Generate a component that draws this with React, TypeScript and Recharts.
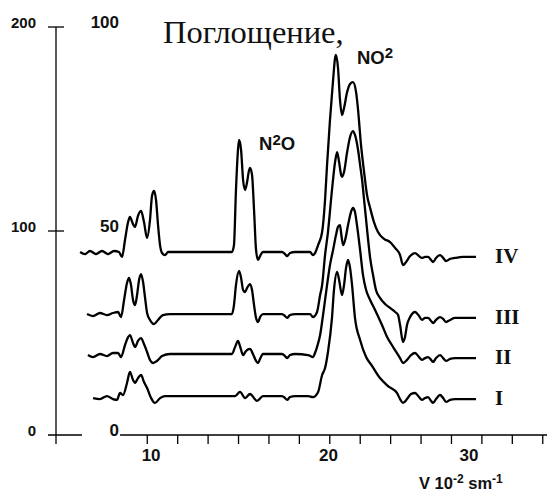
import React from 'react';
import { LineChart, Line, XAxis, YAxis, ReferenceLine, LabelList, Customized } from 'recharts';

// wavenumber (10^2 cm^-1) , absorption (left scale units)
const curveIV: [number, number][] = [
  [6.32, 89.7], [6.59, 88.7], [6.86, 90.2], [7.19, 88.7], [7.52, 90.2], [7.85, 88.7], [8.18, 90.2], [8.45, 89.7],
  [8.62, 87.3], [8.78, 95.6], [8.95, 104.4], [9.05, 106.9], [9.22, 103.4], [9.33, 102.0], [9.49, 107.4], [9.66, 109.8],
  [9.82, 104.4], [9.99, 96.6], [10.15, 105.4], [10.26, 117.2], [10.37, 119.6], [10.48, 115.2], [10.59, 102.9], [10.7, 93.1],
  [10.81, 89.2], [10.97, 88.2], [11.14, 89.7], [11.52, 89.7], [14.64, 89.7], [14.75, 93.1], [14.86, 120.1], [14.97, 139.7],
  [15.03, 144.6], [15.14, 139.7], [15.25, 125.0], [15.36, 120.1], [15.47, 124.0], [15.58, 129.9], [15.63, 130.9], [15.74, 127.5],
  [15.85, 110.3], [15.96, 90.7], [16.07, 85.8], [16.18, 87.7], [16.34, 89.7], [17.38, 89.7], [17.55, 88.7], [17.66, 87.7],
  [17.82, 89.2], [18.1, 89.7], [18.92, 89.7], [19.08, 88.2], [19.19, 89.2], [19.36, 93.1], [19.58, 99.5], [19.74, 115.2],
  [19.85, 132.4], [20.01, 154.4], [20.18, 174.0], [20.29, 184.8], [20.34, 186.3], [20.45, 179.9], [20.56, 164.2], [20.67, 156.9],
  [20.78, 160.3], [20.95, 168.1], [21.11, 172.1], [21.27, 173.0], [21.44, 168.1], [21.55, 159.3], [21.71, 142.2], [21.88, 128.9],
  [22.04, 117.6], [22.21, 111.3], [22.42, 104.4], [22.64, 99.5], [22.97, 96.1], [23.3, 94.6], [23.58, 91.7], [23.85, 88.2],
  [24.01, 83.3], [24.18, 84.8], [24.4, 87.7], [24.67, 89.2], [24.89, 87.7], [25.05, 86.8], [25.22, 87.3], [25.38, 87.3],
  [25.55, 85.8], [25.66, 84.8], [25.82, 86.8], [26.04, 88.2], [26.21, 86.8], [26.37, 85.3], [26.59, 86.3], [26.86, 86.8],
  [27.3, 87.3], [28.01, 87.3],
];

const curveIII: [number, number][] = [
  [6.7, 59.3], [7.03, 58.3], [7.41, 59.8], [7.79, 58.8], [8.12, 59.8], [8.4, 60.3], [8.56, 57.8], [8.73, 66.2],
  [8.89, 74.5], [9.0, 77.0], [9.11, 73.5], [9.22, 66.2], [9.33, 63.7], [9.44, 68.6], [9.55, 76.0], [9.66, 78.9],
  [9.77, 75.0], [9.88, 67.2], [9.99, 59.8], [10.15, 56.4], [10.37, 54.4], [10.59, 56.4], [10.86, 58.8], [11.25, 59.3],
  [14.64, 59.3], [14.75, 63.7], [14.86, 73.5], [15.03, 80.4], [15.14, 77.0], [15.25, 71.1], [15.36, 70.1], [15.47, 72.1],
  [15.63, 74.0], [15.74, 71.1], [15.85, 63.7], [15.96, 57.4], [16.07, 55.4], [16.18, 57.8], [16.34, 59.3], [17.38, 59.3],
  [17.55, 58.3], [17.66, 57.4], [17.82, 58.8], [18.1, 59.3], [18.92, 59.3], [19.08, 57.8], [19.3, 60.3], [19.47, 68.6],
  [19.58, 73.5], [19.74, 88.2], [19.9, 99.5], [20.12, 120.1], [20.29, 133.8], [20.4, 138.7], [20.51, 133.8], [20.62, 127.5],
  [20.67, 126.5], [20.78, 128.9], [20.95, 138.7], [21.11, 146.1], [21.27, 149.0], [21.38, 147.1], [21.55, 139.7], [21.66, 132.4],
  [21.77, 125.0], [21.88, 115.2], [21.99, 105.4], [22.1, 95.6], [22.21, 86.8], [22.37, 78.4], [22.53, 71.1], [22.75, 67.2],
  [23.03, 64.2], [23.3, 62.3], [23.58, 60.3], [23.74, 58.8], [23.85, 53.9], [24.01, 45.6], [24.12, 48.0], [24.23, 53.9],
  [24.4, 57.8], [24.67, 60.3], [24.89, 58.3], [25.05, 56.4], [25.22, 57.4], [25.38, 57.4], [25.55, 55.9], [25.66, 54.9],
  [25.82, 56.4], [26.04, 57.8], [26.21, 56.9], [26.37, 55.4], [26.59, 56.4], [26.86, 57.4], [28.01, 57.4],
];

const curveII: [number, number][] = [
  [6.75, 39.2], [7.03, 38.2], [7.41, 39.7], [7.79, 38.7], [8.12, 40.2], [8.4, 40.2], [8.56, 38.2], [8.78, 44.1],
  [8.95, 48.0], [9.05, 49.0], [9.22, 45.1], [9.33, 43.1], [9.49, 46.1], [9.66, 47.5], [9.82, 44.6], [9.99, 40.7],
  [10.15, 36.8], [10.32, 35.3], [10.53, 36.3], [10.81, 38.7], [11.25, 39.7], [14.64, 39.7], [14.81, 43.1], [14.97, 46.1],
  [15.08, 43.6], [15.25, 39.2], [15.41, 41.2], [15.63, 42.2], [15.79, 39.7], [15.96, 36.3], [16.07, 35.3], [16.18, 37.3],
  [16.34, 39.7], [17.38, 39.7], [17.55, 38.7], [17.66, 37.7], [17.82, 39.2], [18.1, 39.7], [18.81, 39.2], [19.08, 38.2],
  [19.19, 40.2], [19.3, 43.1], [19.47, 49.0], [19.63, 58.8], [19.85, 73.5], [20.01, 83.3], [20.18, 90.7], [20.34, 98.0],
  [20.45, 102.0], [20.56, 102.9], [20.62, 99.0], [20.73, 93.1], [20.84, 95.6], [21.0, 102.9], [21.16, 109.3], [21.27, 111.3],
  [21.38, 109.3], [21.49, 102.9], [21.66, 90.7], [21.82, 78.4], [21.99, 71.1], [22.21, 66.2], [22.48, 61.3], [22.86, 53.9],
  [23.14, 48.0], [23.47, 43.1], [23.85, 37.7], [24.01, 35.3], [24.23, 36.8], [24.45, 39.2], [24.67, 40.2], [24.89, 38.2],
  [25.05, 36.8], [25.22, 37.7], [25.38, 38.2], [25.55, 36.8], [25.66, 35.8], [25.82, 37.7], [26.04, 39.2], [26.21, 37.7],
  [26.37, 36.3], [26.59, 37.3], [26.86, 37.7], [28.01, 37.7],
];

const curveI: [number, number][] = [
  [7.03, 18.1], [7.41, 17.6], [7.79, 19.1], [8.12, 17.6], [8.34, 17.2], [8.51, 20.6], [8.67, 19.6], [8.89, 25.5],
  [9.05, 30.9], [9.22, 27.0], [9.33, 25.5], [9.49, 27.9], [9.66, 29.4], [9.82, 26.0], [9.99, 23.0], [10.21, 18.1],
  [10.42, 15.7], [10.7, 18.1], [10.97, 19.1], [11.25, 19.1], [14.81, 19.1], [15.08, 21.1], [15.36, 18.1], [15.63, 20.1],
  [16.01, 16.7], [16.34, 19.1], [17.38, 19.1], [17.55, 18.1], [17.66, 17.2], [17.82, 18.6], [18.1, 19.1], [18.81, 19.1],
  [19.08, 18.6], [19.36, 21.1], [19.58, 29.4], [19.74, 32.8], [19.9, 40.7], [20.12, 57.4], [20.23, 71.1], [20.4, 79.9],
  [20.51, 76.0], [20.67, 68.6], [20.78, 73.5], [20.89, 81.9], [21.0, 85.8], [21.11, 81.9], [21.22, 73.5], [21.38, 57.4],
  [21.66, 46.6], [21.99, 38.2], [22.32, 33.8], [22.75, 27.9], [23.19, 24.0], [23.68, 20.6], [23.85, 17.6], [24.01, 15.7],
  [24.23, 17.6], [24.45, 20.1], [24.67, 20.6], [24.89, 18.6], [25.05, 17.2], [25.22, 18.1], [25.38, 18.6], [25.55, 16.7],
  [25.66, 15.7], [25.82, 17.6], [26.04, 19.6], [26.21, 18.1], [26.37, 16.2], [26.59, 17.2], [26.86, 17.6], [28.01, 17.6],
];

const seriesNames = ['IV', 'III', 'II', 'I'];
const seriesCurves = [curveIV, curveIII, curveII, curveI];

const yTicks = [0, 100, 200];
const yTickLabels = ['0', '100', '200'];
const yInnerLabels = ['0', '50', '100'];

const xMinorTicks = [5, 10, 11.667, 13.333, 15, 16.667, 18.333, 20, 21.667, 23.333, 25, 26.667, 28.333, 30, 31.667];
const xLabelTicks = [10.21, 19.93, 27.63];
const xLabelTexts = ['10', '20', '30'];

const xDomain: [number, number] = [5, 31.9];
const xAxisLineStart = 8.51;

const titleText = 'Поглощение,';
const xAxisTitle = ['V 10', '-2', ' sm', '-1'];

const SANS = '"Liberation Sans", Arial, sans-serif';
const SERIF = '"Liberation Serif", "Times New Roman", serif';
const INK = '#111';

const toRows = (c: [number, number][]) => c.map(([x, y]) => ({ x, y }));

const YTick = (props: any) => {
  const { x, y, payload } = props;
  const i = yTicks.indexOf(payload.value);
  const right = payload.value === 0 ? 26 : 8;
  return (
    <g>
      <line x1={x - 8} x2={x + right} y1={y} y2={y} stroke="#000" strokeWidth={1.3} />
      <text x={x - 20} y={y + 1} textAnchor="end" fontFamily={SANS} fontWeight="bold" fontSize={15} fill={INK}>
        {yTickLabels[i]}
      </text>
      <text x={x + 63} y={y + 1} textAnchor="end" fontFamily={SANS} fontWeight="bold" fontSize={17} fill={INK}>
        {yInnerLabels[i]}
      </text>
    </g>
  );
};

const XTick = (props: any) => {
  const { x, y, payload } = props;
  const v = payload.value;
  const isMinor = xMinorTicks.some((t) => Math.abs(t - v) < 1e-6);
  const li = xLabelTicks.findIndex((t) => Math.abs(t - v) < 1e-6);
  return (
    <g>
      {isMinor && <line x1={x} x2={x} y1={y} y2={y + 9} stroke="#000" strokeWidth={1.3} />}
      {li >= 0 && (
        <text x={x} y={y + 26} textAnchor="middle" fontFamily={SANS} fontWeight="bold" fontSize={17} fill={INK}>
          {xLabelTexts[li]}
        </text>
      )}
    </g>
  );
};

const allXTicks = [...xMinorTicks, ...xLabelTicks].sort((a, b) => a - b);

const Annotations = () => (
  <g>
    <text x={163} y={43} fontFamily={SERIF} fontSize={32.5} fill={INK}>{titleText}</text>
    <text x={357} y={64} fontFamily={SANS} fontWeight="bold" fontSize={18.5} fill={INK}>
      NO<tspan dy={-6} fontSize={15}>2</tspan>
    </text>
    <text x={259} y={150} fontFamily={SANS} fontWeight="bold" fontSize={18.5} fill={INK}>
      N<tspan dy={-5} fontSize={15}>2</tspan><tspan dy={5} fontSize={18.5}>O</tspan>
    </text>
    <text x={419} y={489} fontFamily={SANS} fontWeight="bold" fontSize={16.5} fill={INK}>
      {xAxisTitle[0]}
      <tspan dy={-6} fontSize={12}>{xAxisTitle[1]}</tspan>
      <tspan dy={6} fontSize={16.5}>{xAxisTitle[2]}</tspan>
      <tspan dy={-6} fontSize={12}>{xAxisTitle[3]}</tspan>
    </text>
  </g>
);

export default function App() {
  return (
    <div style={{ position: 'absolute', left: 0, top: 0, background: '#fff' }}>
      <LineChart width={547} height={495} margin={{ top: 27, right: 0, bottom: 0, left: 0 }}>
        <XAxis
          type="number"
          dataKey="x"
          domain={xDomain}
          allowDataOverflow
          ticks={allXTicks}
          interval={0}
          height={60}
          axisLine={false}
          tickLine={false}
          tickSize={0}
          tickMargin={0}
          tick={<XTick />}
        />
        <YAxis
          type="number"
          domain={[0, 200]}
          ticks={yTicks}
          interval={0}
          width={56}
          axisLine={{ stroke: '#000', strokeWidth: 1.3 }}
          tickLine={false}
          tickSize={0}
          tickMargin={0}
          tick={<YTick />}
        />
        <ReferenceLine
          segment={[{ x: xAxisLineStart, y: 0 }, { x: xDomain[1], y: 0 }]}
          stroke="#000"
          strokeWidth={1.3}
        />
        {seriesCurves.map((c, si) => {
          const rows = toRows(c);
          return (
            <Line
              key={seriesNames[si]}
              data={rows}
              dataKey="y"
              type="monotone"
              stroke="#000"
              strokeWidth={2.3}
              dot={false}
              activeDot={false}
              isAnimationActive={false}
            >
              <LabelList
                dataKey="y"
                content={(p: any) =>
                  p.index === rows.length - 1 ? (
                    <text
                      x={p.x + 19}
                      y={p.y - 1}
                      dominantBaseline="central"
                      fontFamily={SERIF}
                      fontWeight="bold"
                      fontSize={21}
                      fill={INK}
                    >
                      {seriesNames[si]}
                    </text>
                  ) : null
                }
              />
            </Line>
          );
        })}
        <Customized component={Annotations} />
      </LineChart>
    </div>
  );
}
